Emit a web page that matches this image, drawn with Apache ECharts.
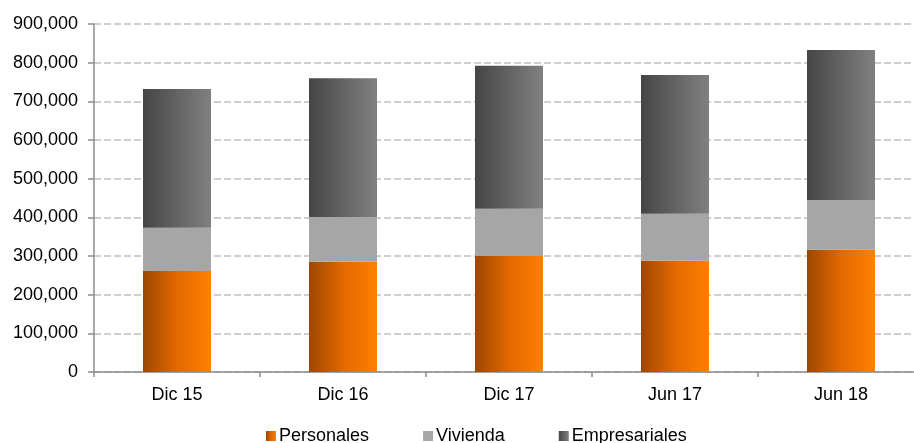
<!DOCTYPE html>
<html>
<head>
<meta charset="utf-8">
<script src="https://cdn.jsdelivr.net/npm/echarts@6/dist/echarts.min.js"></script>
<style>
html,body{margin:0;padding:0;background:#fff;}
#chart{width:914px;height:443px;}
</style>
</head>
<body>
<div id="chart"></div>
<script>
var categories = ['Dic 15', 'Dic 16', 'Dic 17', 'Jun 17', 'Jun 18'];
var seriesNames = ['Personales', 'Vivienda', 'Empresariales'];
var personales = [261000, 285000, 300000, 288000, 316000];
var vivienda = [112000, 116000, 122000, 121000, 129000];
var empresariales = [359000, 359000, 370000, 359000, 388000];
var yTicks = [0, 100000, 200000, 300000, 400000, 500000, 600000, 700000, 800000, 900000];

var FONT = 'Liberation Sans, Arial, sans-serif';
function grad(stops) {
  return new echarts.graphic.LinearGradient(0, 0, 1, 0, stops);
}
var orange = grad([{offset:0,color:'#9c4700'},{offset:0.5,color:'#e36800'},{offset:1,color:'#ff8000'}]);
var dark = grad([{offset:0,color:'#454545'},{offset:1,color:'#808080'}]);

var chart = echarts.init(document.getElementById('chart'));
chart.setOption({
  backgroundColor: '#ffffff',
  animation: false,
  grid: { left: 94, top: 24, height: 348, width: 830, outerBoundsMode: 'none', containLabel: false },
  legend: {
    data: seriesNames,
    top: 422,
    left: 261,
    itemWidth: 10,
    itemHeight: 10,
    itemGap: 54,
    icon: 'rect',
    textStyle: { fontFamily: FONT, fontSize: 18, color: '#000', padding: [0,0,0,-2] }
  },
  xAxis: {
    type: 'category',
    data: categories,
    boundaryGap: true,
    axisLine: { lineStyle: { color: '#8c8c8c', width: 1.5 } },
    axisTick: { show: true, length: 5, lineStyle: { color: '#8c8c8c', width: 1.5 } },
    axisLabel: { fontFamily: FONT, fontSize: 18, color: '#000', margin: 14 }
  },
  yAxis: {
    type: 'value',
    min: yTicks[0],
    max: yTicks[yTicks.length - 1],
    interval: 100000,
    axisLine: { show: true, lineStyle: { color: '#8c8c8c', width: 1.5 } },
    axisTick: { show: true, length: 6, lineStyle: { color: '#8c8c8c', width: 1.5 } },
    axisLabel: {
      fontFamily: FONT, fontSize: 18, color: '#000', margin: 16,
      formatter: function (v) { return v.toLocaleString('en-US'); }
    },
    splitLine: { show: true, lineStyle: { color: '#c0c0c0', width: 1.5, type: [7, 3] } }
  },
  series: [
    { name: seriesNames[0], type: 'bar', stack: 'a', barWidth: 68, data: personales, itemStyle: { color: orange } },
    { name: seriesNames[1], type: 'bar', stack: 'a', barWidth: 68, data: vivienda, itemStyle: { color: '#a6a6a6' } },
    { name: seriesNames[2], type: 'bar', stack: 'a', barWidth: 68, data: empresariales, itemStyle: { color: dark } }
  ]
});
</script>
</body>
</html>
